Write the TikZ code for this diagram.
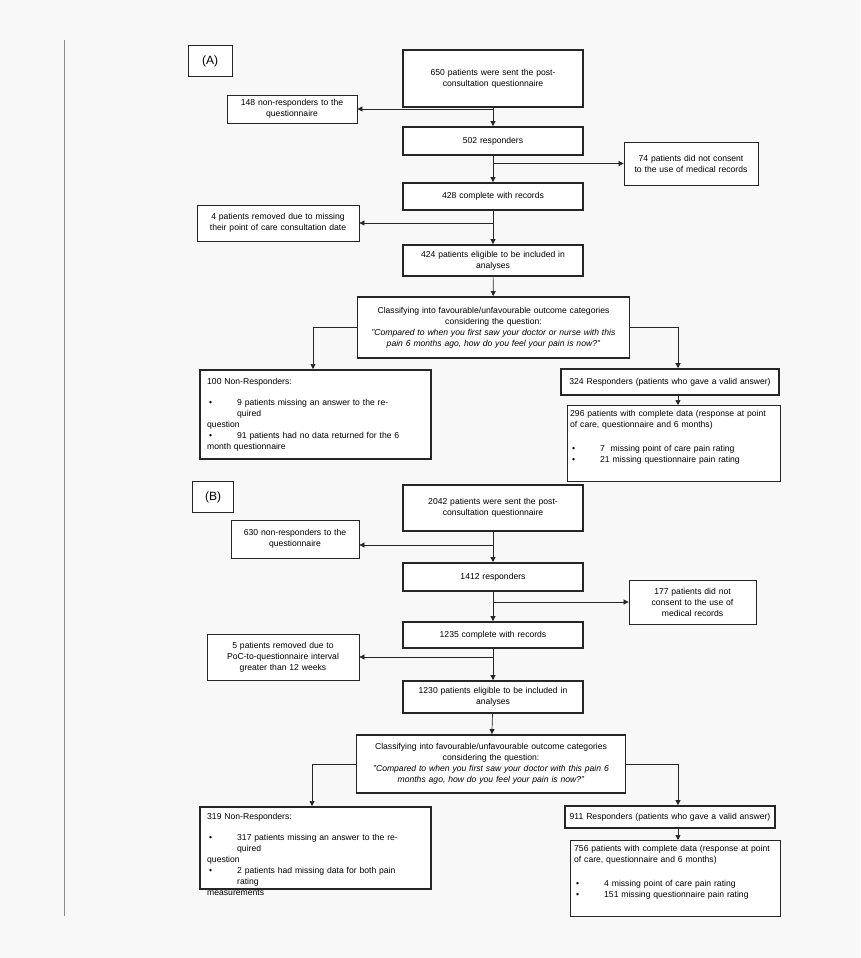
\documentclass[tikz,border=0pt]{standalone}
\usepackage{fontspec}
\setmainfont{Liberation Sans}
\usetikzlibrary{arrows.meta}
\newcommand{\bitem}[1]{\par\hangindent=30pt\hangafter=1\noindent\hbox to 30pt{\hspace{2pt}\textbullet\hfil}#1\par}
\newcommand{\fs}{\fontsize{8.6}{11}\selectfont}
\tikzset{
  base/.style={draw=black!85, fill=white, font=\fs, align=center, inner sep=2pt},
  thick box/.style={base, line width=1.8pt},
  thin box/.style={base, line width=0.8pt},
  arr/.style={-{Triangle[length=5pt,width=5pt]}, line width=0.7pt, black!85},
  txt/.style={font=\fs, anchor=north west, align=left, inner sep=0pt},
}
\newcommand{\bx}[8]{% style, name, x1, y1, x2, y2, textwidth, text
  \node[#1, minimum width={#5-#3}, minimum height={#6-#4}, text width=#7] (#2) at ({(#3+#5)/2},{(#4+#6)/2}) {#8};}
\begin{document}
\begin{tikzpicture}[x=1pt,y=-1pt]
\fill[fill={rgb,255:red,248;green,248;blue,248}] (0,0) rectangle (860,958);
\useasboundingbox (0,0) rectangle (860,958);
\draw[black!45, line width=0.6pt] (64,40) -- (64,916);
% ---------- A ----------
\node[thin box, minimum width=44, minimum height=31, font=\fontsize{12}{14}\selectfont] (LA) at (210,61) {(A)};
\bx{thick box}{A1}{403}{50}{583}{107}{176pt}{650 patients were sent the post-\\consultation questionnaire}
\bx{thin box}{A2}{228}{95}{356}{123}{126pt}{148 non-responders to the\\questionnaire}
\bx{thick box}{A3}{403}{127}{583}{155}{176pt}{502 responders}
\bx{thin box}{A4}{625}{142}{757}{185}{130pt}{74 patients did not consent\\to the use of medical records}
\bx{thick box}{A5}{403}{183}{583}{210}{176pt}{428 complete with records}
\bx{thin box}{A6}{198}{205}{358}{241}{158pt}{4 patients removed due to missing\\their point of care consultation date}
\bx{thick box}{A7}{403}{245}{583}{276}{176pt}{424 patients eligible to be included in\\analyses}
\bx{thick box}{A8}{358}{297}{629}{358}{268pt}{Classifying into favourable/unfavourable outcome categories\\considering the question:\\\textit{"Compared to when you first saw your doctor or nurse with this}\\\textit{pain 6 months ago, how do you feel your pain is now?"}}
\node[thick box, minimum width=231, minimum height=89, anchor=north west] (A9) at (199,369) {};
\node[txt, text width=200pt] at (207,378) {100 Non-Responders:\par\vspace{10pt}\bitem{9 patients missing an answer to the required\\question}\bitem{91 patients had no data returned for the 6\\month questionnaire}};
\bx{thick box}{A10}{561}{369}{779}{395}{214pt}{324 Responders (patients who gave a valid answer)}
\node[thin box, minimum width=213, minimum height=76, anchor=north west] (A11) at (567,405) {};
\node[txt, text width=209pt] at (570,410) {296 patients with complete data (response at point\\of care, questionnaire and 6 months)\par\vspace{13pt}\bitem{7\ \ missing point of care pain rating}\bitem{21 missing questionnaire pain rating}};
\draw[arr] (A1) -- (A3);
\draw[arr] (A3) -- (A5);
\draw[arr] (A5) -- (A7);
\draw[arr] (A7) -- (A8);
\draw[arr] (A1.south |- A2.east) -- (A2.east);
\draw[arr] (A3.south |- A4.west) -- (A4.west);
\draw[arr] (A5.south |- A6.east) -- (A6.east);
\draw[arr] (A8.west) -| (A9.north -| 313,0);
\draw[arr] (A8.east) -| (A10.north -| 678,0);
\draw[arr] (A10.south -| 678,0) -- (A11.north -| 678,0);
% ---------- B ----------
\node[thin box, minimum width=41, minimum height=31, font=\fontsize{12}{14}\selectfont] (LB) at (213,497) {(B)};
\bx{thick box}{B1}{403}{485}{583}{531}{176pt}{2042 patients were sent the post-\\consultation questionnaire}
\bx{thin box}{B2}{232}{520}{358}{558}{124pt}{630 non-responders to the\\questionnaire}
\bx{thick box}{B3}{403}{563}{583}{591}{176pt}{1412 responders}
\bx{thin box}{B4}{630}{580}{755}{624}{123pt}{177 patients did not\\consent to the use of\\medical records}
\bx{thick box}{B5}{403}{622}{583}{648}{176pt}{1235 complete with records}
\bx{thin box}{B6}{208}{634}{358}{680}{148pt}{5 patients removed due to\\PoC-to-questionnaire interval\\greater than 12 weeks}
\bx{thick box}{B7}{403}{681}{583}{713}{176pt}{1230 patients eligible to be included in\\analyses}
\bx{thick box}{B8}{357}{735}{625}{793}{265pt}{Classifying into favourable/unfavourable outcome categories\\considering the question:\\\textit{"Compared to when you first saw your doctor with this pain 6}\\\textit{months ago, how do you feel your pain is now?"}}
\node[thick box, minimum width=231, minimum height=82, anchor=north west] (B9) at (199,806) {};
\node[txt, text width=200pt] at (207,813) {319 Non-Responders:\par\vspace{10pt}\bitem{317 patients missing an answer to the required\\question}\bitem{2 patients had missing data for both pain rating\\measurements}};
\bx{thick box}{B10}{565}{806}{775}{828}{206pt}{911 Responders (patients who gave a valid answer)}
\node[thin box, minimum width=210, minimum height=76, anchor=north west] (B11) at (570,840) {};
\node[txt, text width=206pt] at (574,845) {756 patients with complete data (response at point\\of care, questionnaire and 6 months)\par\vspace{13pt}\bitem{4 missing point of care pain rating}\bitem{151 missing questionnaire pain rating}};
\draw[arr] (B1) -- (B3);
\draw[arr] (B3) -- (B5);
\draw[arr] (B5) -- (B7);
\draw[arr] (B7) -- (B8);
\draw[arr] (B1.south |- 0,545) -- (B2.east |- 0,545);
\draw[arr] (B3.south |- B4.west) -- (B4.west);
\draw[arr] (B5.south |- B6.east) -- (B6.east);
\draw[arr] (B8.west) -| (B9.north -| 312,0);
\draw[arr] (B8.east) -| (B10.north -| 678,0);
\draw[arr] (B10.south -| 678,0) -- (B11.north -| 678,0);
\end{tikzpicture}
\end{document}
